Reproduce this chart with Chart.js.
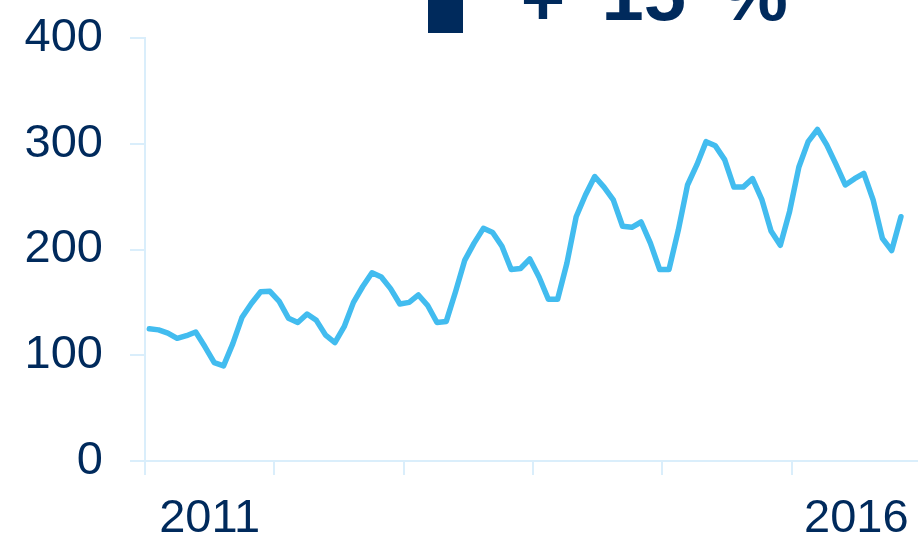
<!DOCTYPE html>
<html>
<head>
<meta charset="utf-8">
<script src="https://cdn.jsdelivr.net/npm/chart.js@4.4.1/dist/chart.umd.min.js"></script>
<style>
    html, body { margin: 0; padding: 0; background: #ffffff; overflow: hidden; }
    #wrap { width: 930px; height: 539px; }
</style>
</head>
<body>
<div id="wrap"><canvas id="mygraph" width="930" height="539"></canvas></div>
<script>
// year labels under the axis (only first and last are printed)
let yearLabels = ["2011", "", "", "", "", "2016"];

// monthly values
let values = [
    125, 124, 121, 116, 118.5, 122, 108, 93, 90, 111, 136, 149,
    160, 160.5, 151, 135, 131, 139, 133, 119, 112, 127, 150, 165,
    178, 174, 163, 148.5, 150, 157, 147, 131, 132, 160, 190, 206,
    220, 216, 203, 181, 182, 191, 174, 153, 153, 187, 231, 251.5,
    269, 259, 247, 222, 221, 226, 206, 181, 181, 218, 261, 280,
    302, 298, 285, 259, 259, 267, 247.5, 217.5, 204, 236, 278, 302,
    313.5, 299, 280.5, 261, 267, 272, 247, 210.5, 199, 231
];

let yTicks = [0, 100, 200, 300, 400];

let navy = "#002a5c";
let lineBlue = "#42bcef";
let axisBlue = "#daeefb";
let fontName = "'Liberation Sans', Arial, sans-serif";

let points = values.map(function(v, i) {
    return { x: i, y: v };
});

// the "+ 15 %" call-out that is cut off at the top
let headerPlugin = {
    id: "header",
    afterDraw: function(chart) {
        let c = chart.ctx;
        c.save();
        c.fillStyle = navy;
        c.fillRect(428, -5, 35, 38);
        c.font = "bold 76px " + fontName;
        c.textBaseline = "alphabetic";
        c.textAlign = "center";
        c.fillText("+", 543, 25);
        c.textAlign = "right";
        c.fillText("15", 686, 20);
        c.textAlign = "center";
        c.fillText("%", 754, 20);
        c.restore();
    }
};

var ctx = document.getElementById("mygraph").getContext("2d");

var chart = new Chart(ctx, {
    type: "line",
    data: {
        datasets: [{
            data: points,
            xAxisID: "xd",
            yAxisID: "y",
            borderColor: lineBlue,
            borderWidth: 5.5,
            pointRadius: 0,
            tension: 0,
            borderJoinStyle: "round",
            borderCapStyle: "round",
            fill: false,
        }],
    },
    options: {
        responsive: false,
        devicePixelRatio: 1,
        animation: false,
        layout: {
            padding: { top: 38, right: 9, bottom: 0, left: 0 },
        },
        plugins: {
            legend: { display: false },
            tooltip: { enabled: false },
        },
        scales: {
            // hidden axis that places the monthly points
            xd: {
                type: "linear",
                display: false,
                min: -0.4635,
                max: 83.16,
            },
            // visible year axis
            x: {
                type: "category",
                labels: yearLabels,
                position: "bottom",
                offset: true,
                grid: {
                    offset: true,
                    drawOnChartArea: false,
                    color: axisBlue,
                    lineWidth: 2,
                    tickLength: 14,
                },
                border: { color: axisBlue, width: 2 },
                ticks: {
                    color: navy,
                    font: { family: fontName, size: 47 },
                    padding: 16,
                    autoSkip: false,
                    maxRotation: 0,
                },
                afterFit: function(scale) {
                    scale.height = 78;
                },
            },
            y: {
                type: "linear",
                min: 0,
                max: 400,
                afterBuildTicks: function(scale) {
                    scale.ticks = yTicks.map(function(v) { return { value: v }; });
                },
                grid: {
                    drawOnChartArea: false,
                    color: axisBlue,
                    lineWidth: 2,
                    tickLength: 15,
                },
                border: { color: axisBlue, width: 2 },
                ticks: {
                    color: navy,
                    font: { family: fontName, size: 47 },
                    padding: 27,
                },
                afterFit: function(scale) {
                    scale.width = 145;
                    // keep the top label from pushing the plot down
                    scale.paddingTop = 0;
                    scale.paddingBottom = 0;
                },
            },
        },
    },
    plugins: [headerPlugin],
});
</script>
</body>
</html>
